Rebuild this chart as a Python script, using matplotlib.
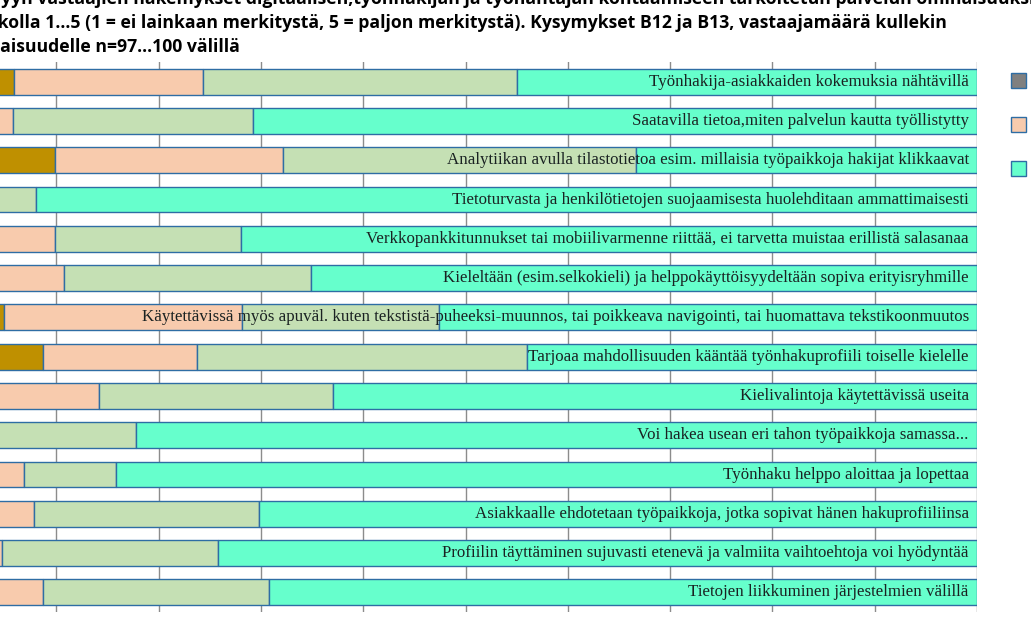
import numpy as np
import matplotlib.pyplot as plt

# survey items, top to bottom
labels = [
    "Työnhakija-asiakkaiden kokemuksia nähtävillä",
    "Saatavilla tietoa,miten palvelun kautta työllistytty",
    "Analytiikan avulla tilastotietoa esim. millaisia työpaikkoja hakijat klikkaavat",
    "Tietoturvasta ja henkilötietojen suojaamisesta huolehditaan ammattimaisesti",
    "Verkkopankkitunnukset tai mobiilivarmenne riittää, ei tarvetta muistaa erillistä salasanaa",
    "Kieleltään (esim.selkokieli) ja helppokäyttöisyydeltään sopiva erityisryhmille",
    "Käytettävissä myös apuväl. kuten tekstistä-puheeksi-muunnos, tai poikkeava navigointi, tai huomattava tekstikoonmuutos",
    "Tarjoaa mahdollisuuden kääntää työnhakuprofiili toiselle kielelle",
    "Kielivalintoja käytettävissä useita",
    "Voi hakea usean eri tahon työpaikkoja samassa...",
    "Työnhaku helppo aloittaa ja lopettaa",
    "Asiakkaalle ehdotetaan työpaikkoja, jotka sopivat hänen hakuprofiiliinsa",
    "Profiilin täyttäminen sujuvasti etenevä ja valmiita vaihtoehtoja voi hyödyntää",
    "Tietojen liikkuminen järjestelmien välillä",
]

# share of answers (%) for each scale value 1..5
s1 = [2.0, 1.0, 3.0, 1.0, 1.0, 1.0, 2.0, 3.0, 1.0, 1.0, 1.0, 1.0, 1.0, 1.0]
s2 = [3.9, 0.8, 6.9, 1.0, 2.0, 2.0, 2.9, 5.7, 2.0, 1.0, 1.0, 2.0, 2.0, 2.0]
s3 = [18.4, 4.0, 22.3, 2.0, 6.9, 7.8, 23.3, 15.1, 11.2, 2.0, 4.8, 4.8, 1.7, 5.7]
s4 = [30.7, 23.4, 34.5, 4.0, 18.2, 24.1, 19.2, 32.2, 22.8, 13.8, 9.0, 22.0, 21.1, 22.1]
s5 = [45.0, 70.8, 33.3, 92.0, 71.9, 65.1, 52.6, 44.0, 63.0, 82.2, 84.2, 70.2, 74.2, 69.2]
scale_names = ["1", "2", "3", "4", "5"]

colors = ["#808080", "#BF9000", "#F8CBAD", "#C5E0B4", "#66FFCC"]
edge = "#2E6DA4"

title = ("Kyselyyn vastaajien näkemykset digitaalisen,työnhakijan ja työnantajan kohtaamiseen tarkoitetun palvelun ominaisuuksien tärkeydestä\n"
         "asteikolla 1...5 (1 = ei lainkaan merkitystä, 5 = paljon merkitystä). Kysymykset B12 ja B13, vastaajamäärä kullekin\n"
         "ominaisuudelle n=97...100 välillä")

W, H = 1031, 621
fig = plt.figure(figsize=(W / 100, H / 100), dpi=100)
# the plot area starts left of the picture edge (it is cropped)
ax = fig.add_axes([-46 / W, 1 - 612 / H, 1023 / W, 550 / H])

y = np.arange(len(labels))
left = np.zeros(len(labels))
bars = []
for vals, col, name in zip([s1, s2, s3, s4, s5], colors, scale_names):
    b = ax.barh(y, vals, left=left, height=0.66, color=col,
                edgecolor=edge, linewidth=1.0, label=name, zorder=2)
    bars.append(b)
    left = left + np.array(vals)

# item texts inside the bars, right aligned
for i, lab in enumerate(labels):
    ax.text(99.2, i, lab, ha="right", va="center", fontsize=12.2,
            family="Liberation Serif", color="#1a2222", zorder=3)

ax.set_xlim(0, 100)
ax.set_ylim(len(labels) - 0.5, -0.5)
ax.set_xticks(np.arange(0, 101, 10))
ax.grid(axis="x", color="#8c8c8c", linewidth=1.0, zorder=0)
ax.tick_params(left=False, bottom=False, labelleft=False, labelbottom=False)
for sp in ax.spines.values():
    sp.set_visible(False)

# title, cut at left like the original
fig.text(-45 / W, 1 + 10 / H, title, ha="left", va="top", fontsize=12.7,
         fontweight="bold", family="Open Sans", linespacing=1.43)

# legend laid out row-wise in two columns, second column falls outside
order = [0, 2, 4, 1, 3]
fig.legend([bars[k] for k in order], [scale_names[k] for k in order],
           ncol=2, loc="upper left", bbox_to_anchor=(998 / W, 1 - 61 / H),
           frameon=False, fontsize=10, handlelength=1.1, handleheight=1.2,
           labelspacing=2.1, handletextpad=0.4, columnspacing=2.0)

plt.savefig("out.png", dpi=100)
